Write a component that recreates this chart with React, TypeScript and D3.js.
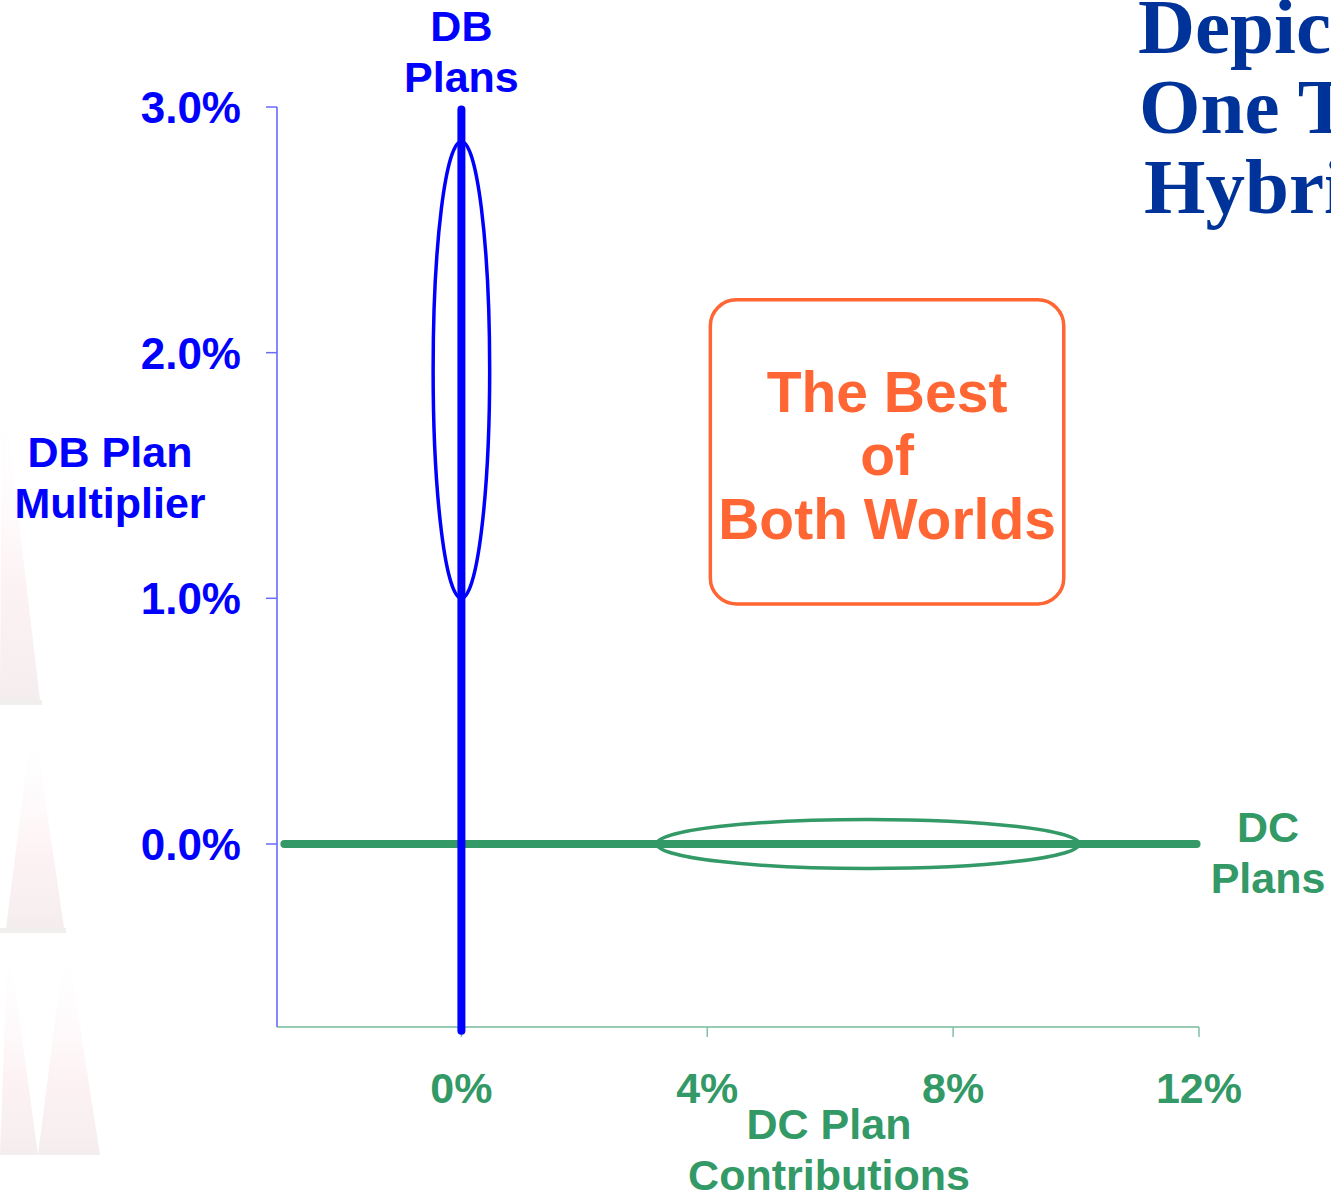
import React from "react";
import * as d3 from "d3";

// Axis ticks (percent values)
const yTicks: number[] = [0, 1, 2, 3];
const xTicks: number[] = [0, 4, 8, 12];
const yTickLabels: string[] = ["0.0%", "1.0%", "2.0%", "3.0%"];
const xTickLabels: string[] = ["0%", "4%", "8%", "12%"];

// Plan lines: DB plans sit on 0% contributions, DC plans on a 0% multiplier
const dbLineY: number[] = [-0.76, 2.99];
const dcLineX: number[] = [-2.88, 11.96];

// Typical ranges for each plan type (ellipses)
const dbRangeX: number[] = [-0.46, 0.46];
const dbRangeY: number[] = [1.0, 2.86];
const dcRangeX: number[] = [3.18, 10.05];
const dcRangeY: number[] = [-0.1, 0.1];

// Annotation box extent in data units
const boxX: number[] = [4.05, 9.8];
const boxY: number[] = [0.977, 2.215];
const boxLines: string[] = ["The Best", "of", "Both Worlds"];

const titleLines: string[] = ["Depicting", "One Type of", "Hybrid"];
const titleIndent: number[] = [1138, 1139, 1144];

const W = 1331;
const H = 1193;
const BLUE = "#0000ff";
const GREEN = "#339966";
const ORANGE = "#ff6633";
const NAVY = "#003399";
const SANS = "'Liberation Sans', Arial, sans-serif";
const SERIF = "'Liberation Serif', 'Times New Roman', serif";

// Faint decorative sail shapes along the left edge
const sails: [number, number][][] = [
  [[2, 380], [40, 700], [0, 700]],
  [[33, 715], [64, 928], [6, 928]],
  [[8, 935], [38, 1155], [0, 1155]],
  [[66, 935], [100, 1155], [38, 1155]],
];
const strips: [number, number, number][] = [
  [0, 700, 42],
  [0, 928, 66],
];

export default function App() {
  const x = d3.scaleLinear().domain([-3, 12]).range([277, 1199]);
  const y = d3.scaleLinear().domain([-0.745, 3]).range([1027, 107]);
  const y0 = y.range()[0];
  const x0 = x.range()[0];
  const line = d3.line<[number, number]>();

  const ellipse = (rx: number[], ry: number[]) => ({
    cx: (x(rx[0]) + x(rx[1])) / 2,
    cy: (y(ry[0]) + y(ry[1])) / 2,
    rx: Math.abs(x(rx[1]) - x(rx[0])) / 2,
    ry: Math.abs(y(ry[1]) - y(ry[0])) / 2,
  });
  const dbE = ellipse(dbRangeX, dbRangeY);
  const dcE = ellipse(dcRangeX, dcRangeY);

  const bx = x(boxX[0]);
  const bw = x(boxX[1]) - bx;
  const by = y(boxY[1]);
  const bh = y(boxY[0]) - by;
  const bcx = bx + bw / 2;

  return (
    <svg
      width={W}
      height={H}
      style={{ position: "absolute", left: 0, top: 0, background: "#fff" }}
    >
      <defs>
        <linearGradient id="sail" x1="0" y1="0" x2="0" y2="1">
          <stop offset="0%" stopColor="#ffffff" stopOpacity={0} />
          <stop offset="65%" stopColor="#fbeaed" stopOpacity={0.6} />
          <stop offset="100%" stopColor="#f2eaeb" stopOpacity={0.85} />
        </linearGradient>
      </defs>

      {/* background sails */}
      <g>
        {sails.map((s, i) => (
          <path key={i} d={(line(s) as string) + "Z"} fill="url(#sail)" />
        ))}
        {strips.map(([sx, sy, sw], i) => (
          <rect key={i} x={sx} y={sy} width={sw} height={5} fill="#f1eeee" />
        ))}
      </g>

      {/* title */}
      <g fontFamily={SERIF} fontWeight="bold" fontSize={79} fill={NAVY}>
        {titleLines.map((t, i) => (
          <text key={t} x={titleIndent[i]} y={53 + i * 80}>
            {t}
          </text>
        ))}
      </g>

      {/* y axis */}
      <g>
        <line x1={x0} x2={x0} y1={y(3)} y2={y0} stroke="#3535ff" strokeWidth={1.2} />
        {yTicks.map((t, i) => (
          <g key={t}>
            <line x1={x0 - 11} x2={x0} y1={y(t)} y2={y(t)} stroke="#6a6aff" strokeWidth={1.5} />
            <text
              x={241}
              y={y(t) + 16}
              textAnchor="end"
              fontFamily={SANS}
              fontWeight="bold"
              fontSize={44}
              fill={BLUE}
            >
              {yTickLabels[i]}
            </text>
          </g>
        ))}
      </g>

      {/* x axis */}
      <g>
        <line x1={x0} x2={x(12)} y1={y0} y2={y0} stroke={GREEN} strokeWidth={1.2} />
        {xTicks.map((t, i) => (
          <g key={t}>
            <line x1={x(t)} x2={x(t)} y1={y0} y2={y0 + 10} stroke="#7fc0a0" strokeWidth={1.5} />
            <text
              x={x(t)}
              y={1103}
              textAnchor="middle"
              fontFamily={SANS}
              fontWeight="bold"
              fontSize={43}
              fill={GREEN}
            >
              {xTickLabels[i]}
            </text>
          </g>
        ))}
      </g>

      {/* DC plans line */}
      <path
        d={line(dcLineX.map((v) => [x(v), y(0)] as [number, number])) as string}
        stroke={GREEN}
        strokeWidth={8}
        strokeLinecap="round"
        fill="none"
      />
      {/* DB plans line */}
      <path
        d={line(dbLineY.map((v) => [x(0), y(v)] as [number, number])) as string}
        stroke={BLUE}
        strokeWidth={8}
        strokeLinecap="round"
        fill="none"
      />

      {/* plan ranges */}
      <ellipse {...dbE} fill="none" stroke={BLUE} strokeWidth={3.5} />
      <ellipse {...dcE} fill="none" stroke={GREEN} strokeWidth={3.5} />

      {/* annotation box */}
      <rect x={bx} y={by} width={bw} height={bh} rx={26} ry={26} fill="none" stroke={ORANGE} strokeWidth={3.5} />
      <g fontFamily={SANS} fontWeight="bold" fontSize={57} fill={ORANGE} textAnchor="middle">
        {boxLines.map((t, i) => (
          <text key={t} x={bcx} y={by + 112 + i * 63.5}>
            {t}
          </text>
        ))}
      </g>

      {/* series and axis labels */}
      <g fontFamily={SANS} fontWeight="bold" fontSize={43} textAnchor="middle">
        <text x={x(0)} y={41} fill={BLUE}>DB</text>
        <text x={x(0)} y={92} fill={BLUE}>Plans</text>
        <text x={110} y={467} fill={BLUE}>DB Plan</text>
        <text x={110} y={518} fill={BLUE}>Multiplier</text>
        <text x={1268} y={842} fill={GREEN}>DC</text>
        <text x={1268} y={893} fill={GREEN}>Plans</text>
        <text x={829} y={1139} fill={GREEN}>DC Plan</text>
        <text x={829} y={1190} fill={GREEN}>Contributions</text>
      </g>
    </svg>
  );
}
